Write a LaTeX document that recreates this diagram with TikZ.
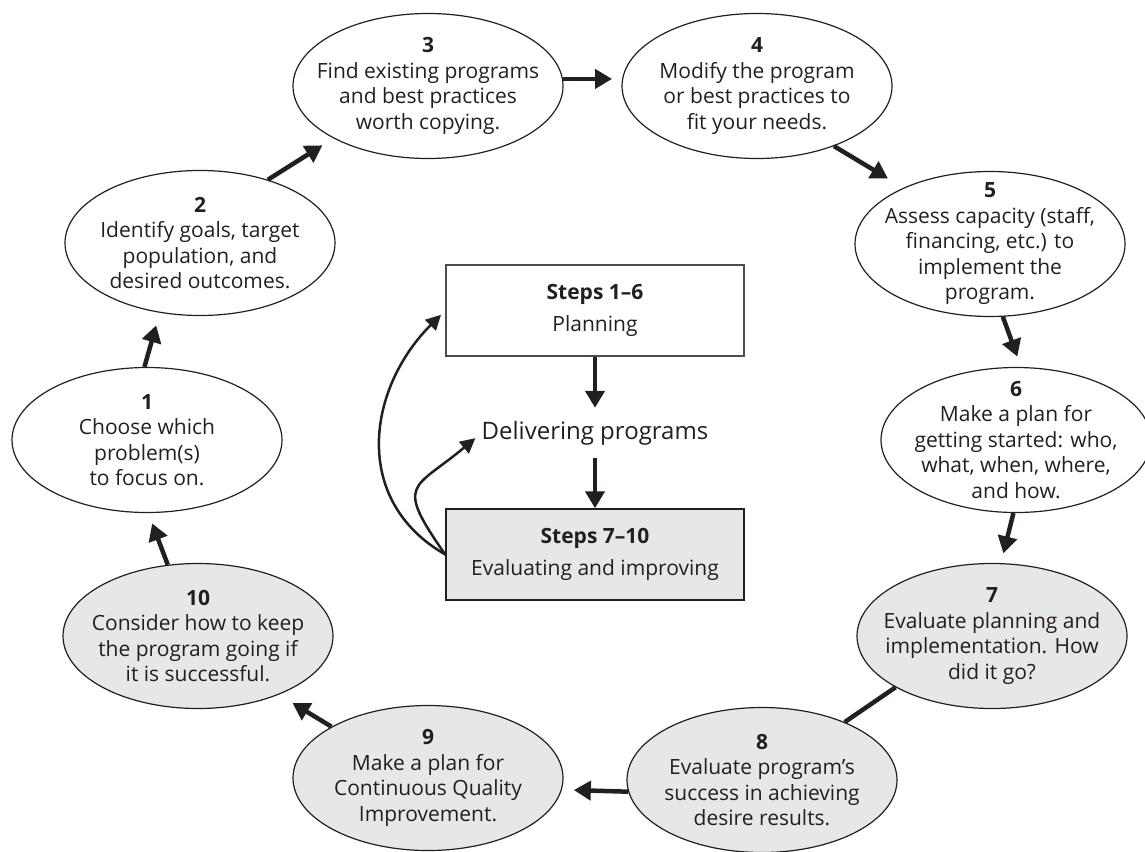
\documentclass[tikz,border=0pt]{standalone}
\usepackage{fontspec}
\setmainfont{Open Sans}
\usetikzlibrary{arrows.meta,shapes.geometric}
\definecolor{ink}{HTML}{231F20}
\definecolor{pale}{HTML}{E6E7E8}
\definecolor{boxline}{HTML}{4D4D4F}
\begin{document}
\begin{tikzpicture}[x=1pt,y=1pt,
  stepell/.style={ellipse, draw=ink, line width=1.2pt, minimum width=270pt, minimum height=145pt, inner sep=0pt},
  evalell/.style={stepell, fill=pale},
  steptext/.style={align=center, text=ink, font=\fontsize{21}{25.5}\selectfont, inner sep=0pt},
  stagebox/.style={draw=boxline, line width=1.5pt, minimum width=298pt, minimum height=91pt, inner sep=0pt, align=center, text=ink, font=\fontsize{21}{31.5}\selectfont},
  conn/.style={draw=ink, line width=4.5pt, -{Triangle[length=17pt,width=19pt]}},
  plainconn/.style={draw=ink, line width=4.5pt},
  loopconn/.style={draw=ink, line width=2.5pt, -{Triangle[length=15pt,width=15pt]}}
]
\useasboundingbox (0,0) rectangle (1145,-851);

% ellipses
\node[stepell] (e1) at (147,-440) {};
\node[stepell] (e2) at (200,-243) {};
\node[stepell] (e3) at (428,-86) {};
\node[stepell] (e4) at (757,-86) {};
\node[stepell] (e5) at (990,-244) {};
\node[stepell] (e6) at (1016,-440) {};
\node[evalell] (e7) at (992,-636) {};
\node[evalell] (e8) at (762,-780) {};
\node[evalell] (e9) at (428,-778) {};
\node[evalell] (e10) at (198,-636) {};

% texts
\node[steptext] (t1) at (e1) {\textbf{1}\\Choose which\\problem(s)\\to focus on.};
\node[steptext] (t2) at (e2) {\textbf{2}\\Identify goals, target\\population, and\\desired outcomes.};
\node[steptext] (t3) at (e3) {\textbf{3}\\Find existing programs\\and best practices\\worth copying.};
\node[steptext] (t4) at (e4) {\textbf{4}\\Modify the program\\or best practices to\\fit your needs.};
\node[steptext] (t5) at (e5) {\textbf{5}\\Assess capacity (staff,\\financing, etc.) to\\implement the\\program.};
\node[steptext] (t6) at (e6) {\textbf{6}\\Make a plan for\\getting started: who,\\what, when, where,\\and how.};
\node[steptext] (t7) at (e7) {\textbf{7}\\Evaluate planning and\\implementation. How\\did it go?};
\node[steptext] (t8) at (e8) {\textbf{8}\\Evaluate program’s\\success in achieving\\desire results.};
\node[steptext] (t9) at (e9) {\textbf{9}\\Make a plan for\\Continuous Quality\\Improvement.};
\node[steptext] (t10) at (e10) {\textbf{10}\\Consider how to keep\\the program going if\\it is successful.};

% center
\node[stagebox, fill=white] (b1) at (595,-310.5) {\textbf{Steps 1–6}\\Planning};
\node[inner sep=0pt, minimum height=50pt, text=ink, font=\fontsize{24}{28}\selectfont] (d) at (595,-433) {Delivering programs};
\node[stagebox, fill=pale, draw=ink] (b2) at (595,-554.5) {\textbf{Steps 7–10}\\Evaluating and improving};

% cycle connectors
\draw[conn, shorten >=13pt] (e1.92) -- (e2.240);
\draw[conn, shorten >=13pt] (e2.43) -- (e3.209);
\draw[conn, shorten >=10pt] (e3.3) -- (e4.177);
\draw[conn, shorten >=18pt] (e4.322) -- (e5.147);
\draw[conn, shorten >=11pt] (e5.280) -- (e6.86);
\draw[conn, shorten >=10pt] (e6.268) -- (e7.83);
\draw[plainconn] (e7.208) -- (e8.35);
\draw[conn, shorten >=12pt] (e8.185) -- (e9.355);
\draw[conn, shorten >=16pt] (e9.152) -- (e10.324);
\draw[conn, shorten >=11pt] (e10.113) -- (e1.271);

% center connectors
\draw[conn] (b1.south) -- (d.north);
\draw[conn] (d.south) -- (b2.north);
\draw[loopconn, shorten >=6pt] (b2.west) to[out=150,in=225,looseness=1.15] (b1.west);
\draw[loopconn, shorten >=8pt] (b2.west) to[out=125,in=220,looseness=1.8] (d.west);
\end{tikzpicture}
\end{document}
